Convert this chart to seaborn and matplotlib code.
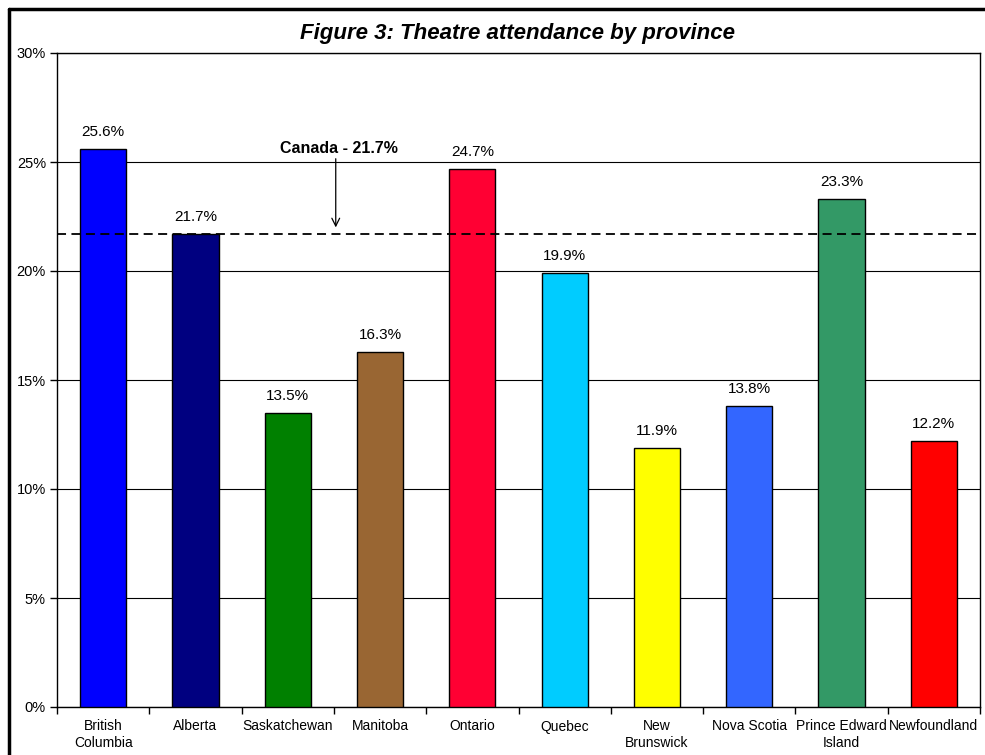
import matplotlib
matplotlib.use("Agg")
import matplotlib.pyplot as plt
import matplotlib.ticker as mticker
from matplotlib.lines import Line2D
import seaborn as sns
import pandas as pd

provinces = ["British\nColumbia", "Alberta", "Saskatchewan", "Manitoba", "Ontario",
             "Quebec", "New\nBrunswick", "Nova Scotia", "Prince Edward\nIsland",
             "Newfoundland"]
attendance = [25.6, 21.7, 13.5, 16.3, 24.7, 19.9, 11.9, 13.8, 23.3, 12.2]
bar_colors = ["#0000FF", "#000080", "#008000", "#996633", "#FF0033",
              "#00CCFF", "#FFFF00", "#3366FF", "#339966", "#FF0000"]
canada_rate = 21.7
y_ticks = [0, 5, 10, 15, 20, 25, 30]

sns.set_theme(style="white")
plt.rcParams["font.family"] = ["Liberation Sans", "DejaVu Sans"]
plt.rcParams["text.color"] = "black"
plt.rcParams["xtick.color"] = "black"
plt.rcParams["ytick.color"] = "black"
plt.rcParams["xtick.labelcolor"] = "black"
plt.rcParams["ytick.labelcolor"] = "black"

df = pd.DataFrame({"province": provinces, "rate": attendance})

fig = plt.figure(figsize=(9.85, 7.55), dpi=100)
ax = fig.add_axes([57 / 985, 1 - 707 / 755, (980 - 57) / 985, (707 - 53) / 755])

sns.barplot(data=df, x="province", y="rate", hue="province", palette=bar_colors,
            saturation=1, width=0.5, edgecolor="black", linewidth=1.0,
            legend=False, ax=ax, zorder=3)

ax.set_ylim(0, 30)
ax.set_xlim(-0.5, len(provinces) - 0.5)
ax.set_yticks(y_ticks)
ax.yaxis.set_major_formatter(mticker.FuncFormatter(lambda v, p: f"{v:.0f}%"))
ax.yaxis.grid(True, color="black", linewidth=0.8, zorder=0)
ax.set_axisbelow(True)
ax.set_xlabel("")
ax.set_ylabel("")

# category labels centred, tick marks on category boundaries
ax.set_xticks(range(len(provinces)))
ax.set_xticklabels(provinces, fontsize=10, linespacing=1.25)
ax.set_xticks([i - 0.5 for i in range(len(provinces) + 1)], minor=True)
ax.tick_params(axis="x", which="major", length=0, pad=9)
ax.tick_params(axis="x", which="minor", length=5, width=1, color="black",
               direction="out", bottom=True)
ax.tick_params(axis="y", which="major", length=5, width=1, color="black",
               direction="out", left=True, labelsize=10.5, pad=3)

for s in ax.spines.values():
    s.set_color("black")
    s.set_linewidth(1.0)

# value labels
for i, v in enumerate(attendance):
    ax.text(i, v + 0.45, f"{v:.1f}%", ha="center", va="bottom", fontsize=11,
            color="black", zorder=5)

# national average
ax.axhline(canada_rate, color="black", linewidth=1.3, linestyle=(0, (5, 3)),
           zorder=4)
ax.annotate("", xy=(2.52, canada_rate + 0.3), xytext=(2.52, 25.15),
            arrowprops=dict(arrowstyle="->", color="black", lw=0.9,
                            shrinkA=0, shrinkB=0, mutation_scale=14),
            zorder=6)
ax.text(2.55, 25.6, "Canada - 21.7%", ha="center", va="center",
        fontsize=11.5, fontweight="bold", color="black", zorder=6)

fig.text(518 / 985, 1 - 33 / 755, "Figure 3: Theatre attendance by province",
         ha="center", va="center", fontsize=16, fontweight="bold",
         style="italic", color="black")

# outer frame of the chart area
fig.add_artist(Line2D([9 / 985, 1.0], [1 - 9 / 755, 1 - 9 / 755],
                      transform=fig.transFigure, color="black", linewidth=2.5))
fig.add_artist(Line2D([9 / 985, 9 / 985], [0, 1 - 9 / 755],
                      transform=fig.transFigure, color="black", linewidth=2.5))

fig.savefig("out.png", dpi=100)
